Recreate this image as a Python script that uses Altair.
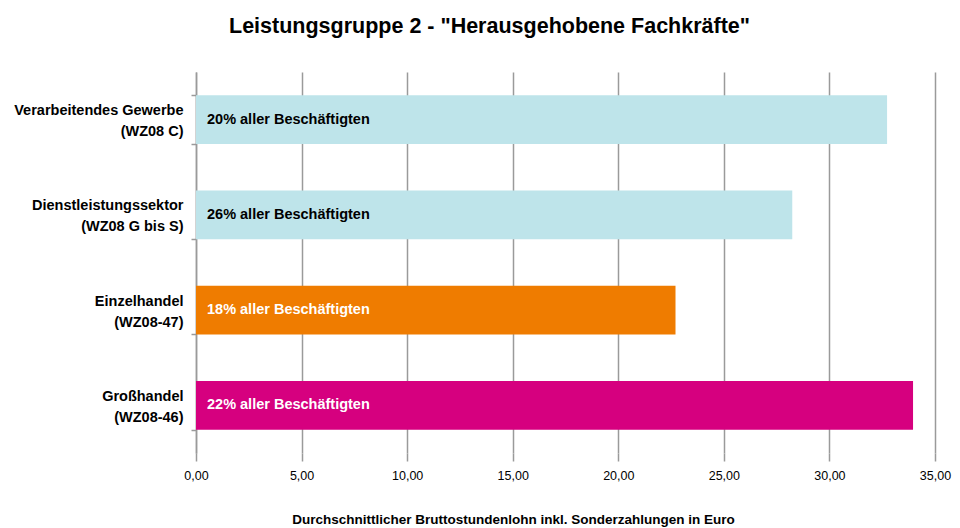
import altair as alt
import pandas as pd

categories = ["Verarbeitendes Gewerbe|(WZ08 C)", "Dienstleistungssektor|(WZ08 G bis S)",
              "Einzelhandel|(WZ08-47)", "Großhandel|(WZ08-46)"]
values = [32.73, 28.24, 22.71, 33.96]
labels = ["20% aller Beschäftigten", "26% aller Beschäftigten",
          "18% aller Beschäftigten", "22% aller Beschäftigten"]
colors = ["#BEE4EA", "#BEE4EA", "#EF7C00", "#D6007F"]
text_colors = ["#000000", "#000000", "#FFFFFF", "#FFFFFF"]
x_ticks = [0, 5, 10, 15, 20, 25, 30, 35]

df = pd.DataFrame({"cat": categories, "val": values, "lab": labels,
                   "col": colors, "tcol": text_colors, "start": [0] * 4})

FONT = "Liberation Sans"

y_enc = alt.Y("cat:N", sort=categories, title=None,
              scale=alt.Scale(paddingInner=0.49, paddingOuter=0.245),
              axis=alt.Axis(labelExpr="split(datum.label, '|')", labelFont=FONT,
                            labelFontSize=14.5, labelFontWeight="bold", labelColor="#000",
                            labelLineHeight=21, labelOffset=-9, labelPadding=8,
                            tickBand="extent",
                            tickSize=5, tickColor="#9a9a9a", domainColor="#9a9a9a",
                            domainWidth=1.5, tickWidth=1.5, grid=False))

x_enc = alt.X("val:Q", title="Durchschnittlicher Bruttostundenlohn inkl. Sonderzahlungen in Euro",
              scale=alt.Scale(domain=[0, 35], nice=False),
              axis=alt.Axis(values=x_ticks,
                            labelExpr="replace(format(datum.value, '.2f'), '.', ',')",
                            labelFont=FONT, labelFontSize=12.5, labelColor="#000",
                            labelFlush=False,
                            labelPadding=8, domain=False, tickSize=8, tickColor="#9a9a9a",
                            tickWidth=1.5, grid=True, gridColor="#9a9a9a", gridWidth=1.5,
                            titleFont=FONT, titleFontSize=13.5, titleFontWeight="bold",
                            titleColor="#000", titleX=317, titleY=66,
                            titleAlign="center", titleBaseline="middle"))

bars = alt.Chart(df).mark_bar().encode(
    y=y_enc, x=x_enc, color=alt.Color("col:N", scale=None))

text = alt.Chart(df).mark_text(align="left", baseline="middle", dx=11, font=FONT,
                               fontSize=14.5, fontWeight="bold").encode(
    y=alt.Y("cat:N", sort=categories),
    x=alt.X("start:Q"),
    text="lab:N",
    color=alt.Color("tcol:N", scale=None))

chart = (bars + text).properties(
    width=739, height=381,
    padding={"left": 188, "top": 64, "right": 17, "bottom": 78},
    autosize=alt.AutoSizeParams(type="none"),
    title=alt.TitleParams("Leistungsgruppe 2 - \"Herausgehobene  Fachkräfte\"",
                          font=FONT, fontSize=21.5, fontWeight="bold", color="#000",
                          anchor="middle", dx=-76, offset=27)
).configure_view(stroke=None)

chart.save("out.html", embed_options={"renderer": "svg", "actions": False})
